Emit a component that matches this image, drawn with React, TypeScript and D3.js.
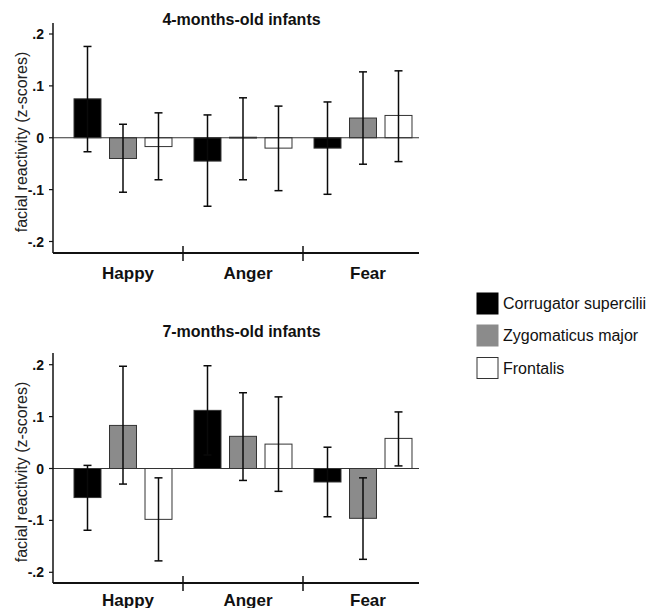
import React from "react";
import * as d3 from "d3";

const categories = ["Happy", "Anger", "Fear"];
const series = ["Corrugator supercilii", "Zygomaticus major", "Frontalis"];
const seriesFill = ["#000000", "#8b8b8b", "#ffffff"];
const yTicks = [-0.2, -0.1, 0, 0.1, 0.2];
const yTickLabels = ["-.2", "-.1", "0", ".1", ".2"];

// 4-months-old infants
const m4Corr = [0.075, -0.045, -0.02];
const m4Zyg = [-0.04, 0.001, 0.038];
const m4Front = [-0.017, -0.02, 0.043];
const m4CorrHi = [0.176, 0.044, 0.069];
const m4CorrLo = [-0.027, -0.132, -0.109];
const m4ZygHi = [0.026, 0.077, 0.127];
const m4ZygLo = [-0.105, -0.081, -0.051];
const m4FrontHi = [0.048, 0.061, 0.129];
const m4FrontLo = [-0.081, -0.102, -0.046];

// 7-months-old infants
const m7Corr = [-0.056, 0.112, -0.026];
const m7Zyg = [0.083, 0.062, -0.096];
const m7Front = [-0.098, 0.047, 0.058];
const m7CorrHi = [0.006, 0.198, 0.041];
const m7CorrLo = [-0.119, 0.026, -0.093];
const m7ZygHi = [0.197, 0.146, -0.018];
const m7ZygLo = [-0.03, -0.023, -0.175];
const m7FrontHi = [-0.018, 0.138, 0.109];
const m7FrontLo = [-0.178, -0.044, 0.005];

const FONT = "'Liberation Sans', Arial, sans-serif";

type PanelProps = {
  title: string;
  titleY: number;
  yTop: number;
  yBottom: number;
  axisTop: number;
  axisBottom: number;
  catLabelY: number;
  means: number[][];
  hi: number[][];
  lo: number[][];
};

const x0 = d3.scaleBand<string>().domain(categories).range([63, 423]);
const x1 = d3
  .scaleBand<string>()
  .domain(series)
  .range([6.75, 113.25])
  .paddingInner(0.24)
  .paddingOuter(0.12);

function Panel(p: PanelProps) {
  const y = d3.scaleLinear().domain([-0.2, 0.2]).range([p.yBottom, p.yTop]);
  const axisX = 53;
  const axisRight = 419;
  const zero = y(0);
  const bw = x1.bandwidth();
  return (
    <g>
      <text
        x={241.5}
        y={p.titleY}
        textAnchor="middle"
        fontFamily={FONT}
        fontWeight="bold"
        fontSize={16}
        fill="#111"
      >
        {p.title}
      </text>
      {categories.map((c, ci) =>
        series.map((s, si) => {
          const v = p.means[si][ci];
          const bx = (x0(c) as number) + (x1(s) as number);
          const top = Math.min(y(v), zero);
          const h = Math.max(Math.abs(y(v) - zero), 0.8);
          return (
            <rect
              key={c + s}
              x={bx}
              y={top}
              width={bw}
              height={h}
              fill={seriesFill[si]}
              stroke="#333"
              strokeWidth={1}
            />
          );
        })
      )}
      <line x1={axisX} x2={axisRight} y1={zero} y2={zero} stroke="#333" strokeWidth={1.2} />
      {categories.map((c, ci) =>
        series.map((s, si) => {
          const cx = (x0(c) as number) + (x1(s) as number) + bw / 2;
          const yh = y(p.hi[si][ci]);
          const yl = y(p.lo[si][ci]);
          return (
            <g key={"e" + c + s} stroke="#0a0a0a" strokeWidth={1.5}>
              <line x1={cx} x2={cx} y1={yh} y2={yl} />
              <line x1={cx - 4} x2={cx + 4} y1={yh} y2={yh} />
              <line x1={cx - 4} x2={cx + 4} y1={yl} y2={yl} />
            </g>
          );
        })
      )}
      <line x1={axisX} x2={axisX} y1={p.axisTop} y2={p.axisBottom} stroke="#111" strokeWidth={1.5} />
      {yTicks.map((t, i) => (
        <g key={"t" + i}>
          <line x1={axisX - 4} x2={axisX} y1={y(t)} y2={y(t)} stroke="#111" strokeWidth={1.2} />
          <text
            x={44}
            y={y(t) + 5}
            textAnchor="end"
            fontFamily={FONT}
            fontWeight="bold"
            fontSize={14}
            fill="#111"
          >
            {yTickLabels[i]}
          </text>
        </g>
      ))}
      <text
        transform={`translate(27,${(p.axisTop + p.axisBottom) / 2 + 4}) rotate(-90)`}
        textAnchor="middle"
        fontFamily={FONT}
        fontSize={16}
        fill="#222"
      >
        facial reactivity (z-scores)
      </text>
      <line x1={axisX} x2={axisRight} y1={p.axisBottom} y2={p.axisBottom} stroke="#111" strokeWidth={2} />
      {categories.slice(1).map((c) => (
        <line
          key={"s" + c}
          x1={x0(c) as number}
          x2={x0(c) as number}
          y1={p.axisBottom - 7}
          y2={p.axisBottom + 8}
          stroke="#111"
          strokeWidth={1.5}
        />
      ))}
      {categories.map((c) => (
        <text
          key={"c" + c}
          x={(x0(c) as number) + x0.bandwidth() / 2 + 5}
          y={p.catLabelY}
          textAnchor="middle"
          fontFamily={FONT}
          fontWeight="bold"
          fontSize={17}
          fill="#111"
        >
          {c}
        </text>
      ))}
    </g>
  );
}

export default function App() {
  const legendY = [293, 325, 357.5];
  return (
    <svg
      width={646}
      height={608}
      style={{ position: "absolute", left: 0, top: 0, background: "#fff", display: "block" }}
    >
      <rect x={0} y={0} width={646} height={608} fill="#fff" />
      <Panel
        title="4-months-old infants"
        titleY={25}
        yTop={34}
        yBottom={241.5}
        axisTop={23}
        axisBottom={253}
        catLabelY={278.5}
        means={[m4Corr, m4Zyg, m4Front]}
        hi={[m4CorrHi, m4ZygHi, m4FrontHi]}
        lo={[m4CorrLo, m4ZygLo, m4FrontLo]}
      />
      <Panel
        title="7-months-old infants"
        titleY={336.5}
        yTop={364.7}
        yBottom={572.3}
        axisTop={353}
        axisBottom={583}
        catLabelY={605.5}
        means={[m7Corr, m7Zyg, m7Front]}
        hi={[m7CorrHi, m7ZygHi, m7FrontHi]}
        lo={[m7CorrLo, m7ZygLo, m7FrontLo]}
      />
      {series.map((s, i) => (
        <g key={"l" + s}>
          <rect
            x={477}
            y={legendY[i]}
            width={21}
            height={21}
            fill={seriesFill[i]}
            stroke={i === 2 ? "#333" : seriesFill[i]}
            strokeWidth={1}
          />
          <text x={503} y={legendY[i] + 16} fontFamily={FONT} fontSize={16} fill="#111">
            {s}
          </text>
        </g>
      ))}
    </svg>
  );
}
